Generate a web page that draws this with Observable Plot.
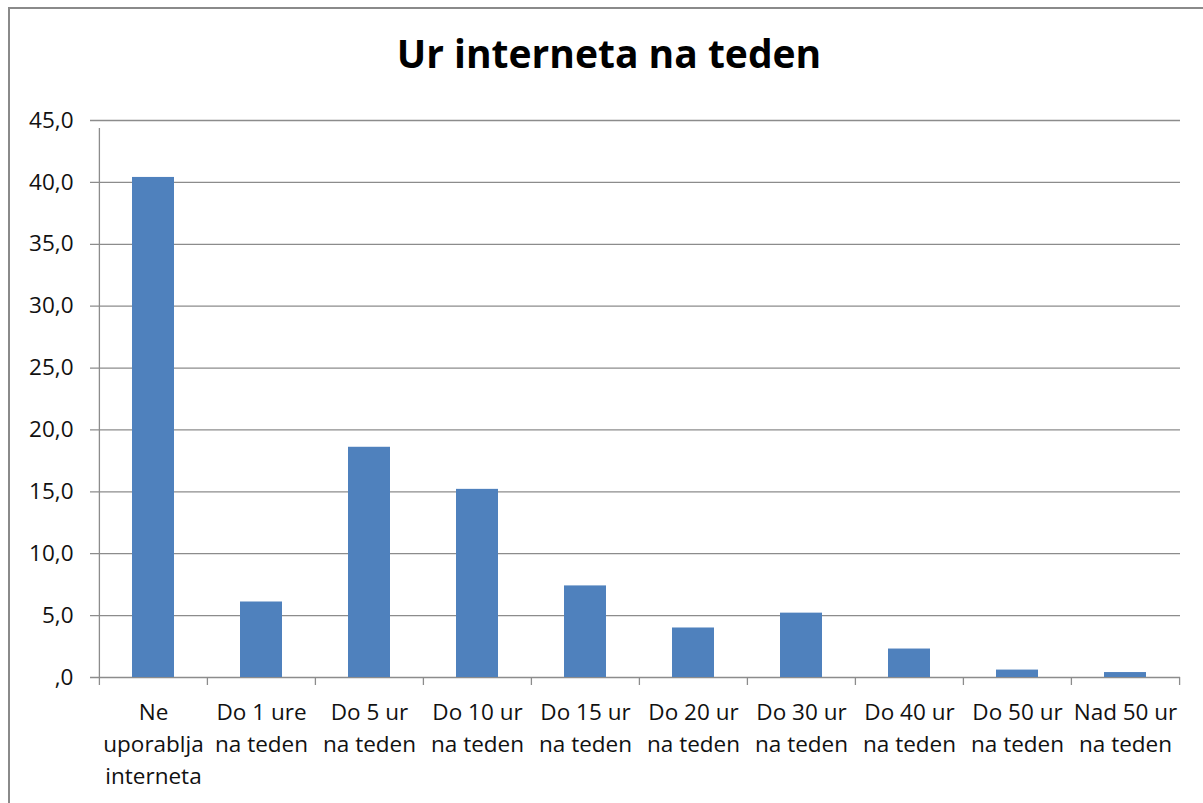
<!DOCTYPE html>
<html>
<head>
<meta charset="utf-8">
<script src="https://cdn.jsdelivr.net/npm/d3@7"></script>
<script src="https://cdn.jsdelivr.net/npm/@observablehq/plot@0.6"></script>
<style>
  html, body { margin: 0; padding: 0; background: #fff; }
  #wrap { position: relative; width: 1203px; height: 803px; overflow: hidden; font-family: "Open Sans", sans-serif; }
  #frame { position: absolute; left: 8px; top: 7px; width: 1300px; height: 900px; border: 2px solid #8a8a8a; box-sizing: border-box; }
  #title { position: absolute; left: 0; top: 30px; width: 1218px; text-align: center; font-weight: bold; font-size: 39px; color: #000; line-height: 46px; }
  #chart { position: absolute; left: 0; top: 0; }
</style>
</head>
<body>
<div id="wrap">
  <div id="frame"></div>
  <div id="title">Ur interneta na teden</div>
  <div id="chart"></div>
</div>
<script>
const categories = [
  "Ne\nuporablja\ninterneta",
  "Do 1 ure\nna teden",
  "Do 5 ur\nna teden",
  "Do 10 ur\nna teden",
  "Do 15 ur\nna teden",
  "Do 20 ur\nna teden",
  "Do 30 ur\nna teden",
  "Do 40 ur\nna teden",
  "Do 50 ur\nna teden",
  "Nad 50 ur\nna teden"
];
const values = [40.4, 6.1, 18.6, 15.2, 7.4, 4.0, 5.2, 2.3, 0.6, 0.4];
const yTicks = [0, 5, 10, 15, 20, 25, 30, 35, 40, 45];
const yTickLabels = [",0", "5,0", "10,0", "15,0", "20,0", "25,0", "30,0", "35,0", "40,0", "45,0"];

const data = categories.map((c, i) => ({category: c, value: values[i]}));

const W = 1203, H = 803;
const mL = 98, mR = 23, mT = 120, mB = 126;
const step = (W - mL - mR) / categories.length;
const gridColor = "#8c8c8c";

const plot = Plot.plot({
  width: W,
  height: H,
  marginLeft: mL,
  marginRight: mR,
  marginTop: mT,
  marginBottom: mB,
  style: {fontFamily: "'Open Sans', sans-serif", background: "transparent", color: "#111"},
  x: {domain: categories, paddingInner: 0.61, paddingOuter: 0.305, label: null},
  y: {domain: [0, 45], label: null},
  marks: [
    Plot.gridY(yTicks, {stroke: gridColor, strokeOpacity: 1, strokeWidth: 1.3, insetLeft: -8}),
    Plot.ruleX(categories, {x: d => d, y1: 0, y2: 0, dx: -step / 2, insetBottom: -8, stroke: gridColor, strokeWidth: 1.3}),
    Plot.ruleX(categories.slice(-1), {x: d => d, y1: 0, y2: 0, dx: step / 2, insetBottom: -8, stroke: gridColor, strokeWidth: 1.3}),
    Plot.ruleX([0], {x: () => categories[0], y1: 0, y2: 45, dx: -step / 2, insetBottom: -8, stroke: gridColor, strokeWidth: 1.3}),
    Plot.barY(data, {x: "category", y: "value", fill: "#4f81bd"}),
    Plot.axisY(yTicks, {
      tickSize: 0,
      tickPadding: 25,
      fontSize: 22.5,
      fill: "#111",
      tickFormat: d => yTickLabels[yTicks.indexOf(d)],
      label: null
    }),
    Plot.axisX({
      tickSize: 0,
      tickPadding: 20,
      fontSize: 22.5,
      lineHeight: 1.42,
      fill: "#111",
      tickFormat: d => d,
      label: null
    })
  ]
});
document.getElementById("chart").appendChild(plot);
</script>
</body>
</html>
